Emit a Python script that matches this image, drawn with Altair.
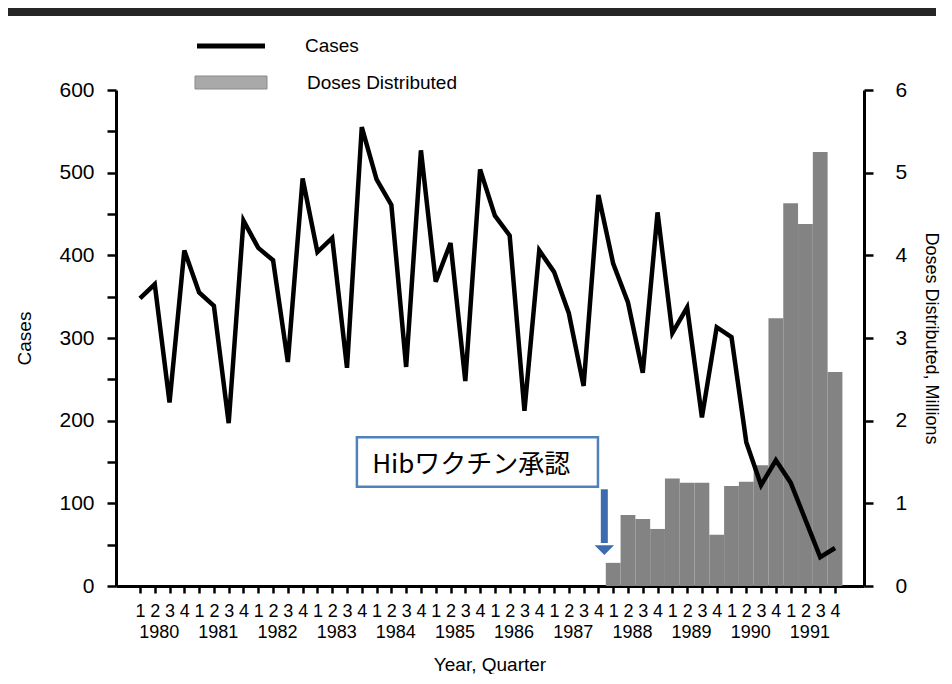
import altair as alt
import pandas as pd

# ---- data ----
quarter_index = list(range(48))          # 1980Q1 .. 1991Q4
cases = [348, 365, 222, 406, 355, 339, 197, 442, 409, 394, 271, 493,
         404, 421, 264, 555, 492, 461, 265, 527, 368, 415, 248, 504,
         448, 424, 212, 406, 380, 330, 242, 473, 390, 343, 258, 452,
         306, 337, 204, 313, 301, 174, 122, 152, 125, 80, 35, 46]
dose_index = list(range(32, 48))         # 1988Q1 .. 1991Q4
doses = [0.28, 0.86, 0.81, 0.69, 1.30, 1.25, 1.25, 0.62,
         1.21, 1.26, 1.46, 3.24, 4.63, 4.38, 5.25, 2.59]
years = [str(y) for y in range(1980, 1992)]
case_ticks = list(range(0, 601, 50))
dose_ticks = [v / 2 for v in range(0, 13)]
annotation_text = "Hibワクチン承認"

FONT = "Liberation Sans"
JP = "Noto Sans CJK JP"

df_cases = pd.DataFrame({"i": quarter_index, "cases": cases})
df_doses = pd.DataFrame({"x0": [i - 0.5 for i in dose_index],
                         "x1": [i + 0.5 for i in dose_index],
                         "d": doses})
df_years = pd.DataFrame({"i": [4 * k + 1.3 for k in range(len(years))], "year": years})
one = pd.DataFrame({"a": [0]})

xscale = alt.Scale(domain=[-1.62, 48.96], nice=False, zero=False)
cscale = alt.Scale(domain=[0, 600], nice=False)

X_AXIS = alt.Axis(values=quarter_index, labelExpr="(datum.value % 4) + 1",
                  labelOverlap=False, labelFlush=False, tickSize=7,
                  labelPadding=9, labelFontSize=18, title=None,
                  domainWidth=3, tickWidth=2.5)
Y_AXIS = alt.Axis(orient="left", values=case_ticks,
                  labelExpr="datum.value % 100 == 0 ? datum.label : ''",
                  labelOverlap=False,
                  title="Cases", tickSize=9, labelPadding=13, titlePadding=24,
                  domainWidth=3, tickWidth=2.5)

# bars (right axis)
bars = alt.Chart(df_doses).mark_rect(color="#838383").encode(
    x=alt.X("x0:Q", scale=xscale, axis=X_AXIS),
    x2="x1:Q",
    y=alt.Y("d:Q", scale=alt.Scale(domain=[0, 6], nice=False),
            axis=alt.Axis(orient="right", values=dose_ticks, format="d",
                          labelExpr="datum.value % 1 == 0 ? datum.label : ''",
                          labelOverlap=False,
                          title="Doses Distributed, Millions", titleFontSize=18,
                          tickSize=9, labelPadding=22, titlePadding=15,
                          domainWidth=3, tickWidth=2.5)),
    y2=alt.datum(0),
)

line = alt.Chart(df_cases).mark_line(color="black", strokeWidth=4.5, strokeJoin="miter").encode(
    x=alt.X("i:Q", scale=xscale, axis=X_AXIS),
    y=alt.Y("cases:Q", scale=cscale, axis=Y_AXIS),
)

ann = pd.DataFrame({"x1": [14.67], "x2": [30.97], "y1": [180], "y2": [120],
                    "tx": [15.7], "ty": [146], "t": [annotation_text],
                    "ax": [31.4], "ay1": [117], "ay2": [52], "hy": [43.5]})

box = alt.Chart(ann).mark_rect(fill="white", stroke="#4f81bd", strokeWidth=2.5).encode(
    x=alt.X("x1:Q", scale=xscale, axis=X_AXIS), x2="x2:Q",
    y=alt.Y("y1:Q", scale=cscale, axis=Y_AXIS), y2="y2:Q")
box_text = alt.Chart(ann).mark_text(align="left", baseline="middle", font=JP,
                                    fontSize=26, color="black").encode(
    x=alt.X("tx:Q", scale=xscale, axis=X_AXIS),
    y=alt.Y("ty:Q", scale=cscale, axis=Y_AXIS), text="t:N")
shaft = alt.Chart(ann).mark_rule(color="#3d6bb0", strokeWidth=7).encode(
    x=alt.X("ax:Q", scale=xscale, axis=X_AXIS),
    y=alt.Y("ay1:Q", scale=cscale, axis=Y_AXIS), y2="ay2:Q")
head = alt.Chart(ann).mark_point(shape="M-1,-0.5L1,-0.5L0,0.5Z", filled=True, size=380,
                                 color="#3d6bb0", opacity=1).encode(
    x=alt.X("ax:Q", scale=xscale, axis=X_AXIS),
    y=alt.Y("hy:Q", scale=cscale, axis=Y_AXIS))

year_text = alt.Chart(df_years).mark_text(font=FONT, fontSize=18, baseline="middle",
                                          color="black").encode(
    x=alt.X("i:Q", scale=xscale, axis=X_AXIS), y=alt.value(543), text="year:N")

xtitle = alt.Chart(one).mark_text(text="Year, Quarter", font=FONT, fontSize=19,
                                  color="black", baseline="middle").encode(
    x=alt.value(374), y=alt.value(575))

# legend drawn by hand
leg_line = alt.Chart(one).mark_rule(color="black", strokeWidth=5).encode(
    x=alt.value(81), x2=alt.value(149), y=alt.value(-44))
leg_rect = alt.Chart(one).mark_rect(fill="#a9a9a9", stroke="#8a8a8a", strokeWidth=1).encode(
    x=alt.value(79), x2=alt.value(151), y=alt.value(-14), y2=alt.value(-1))
leg_t1 = alt.Chart(one).mark_text(text="Cases", font=FONT, fontSize=19, align="left",
                                  baseline="middle", color="black").encode(
    x=alt.value(189), y=alt.value(-44))
leg_t2 = alt.Chart(one).mark_text(text="Doses Distributed", font=FONT, fontSize=19,
                                  align="left", baseline="middle", color="black").encode(
    x=alt.value(191), y=alt.value(-7))
band = alt.Chart(one).mark_rule(color="#262626", strokeWidth=8).encode(
    x=alt.value(-108), x2=alt.value(820), y=alt.value(-78))

front = alt.layer(line, box, box_text, shaft, head, year_text, xtitle,
                  leg_line, leg_rect, leg_t1, leg_t2, band)

chart = alt.layer(bars, front).resolve_scale(y="independent").properties(
    width=748, height=496,
    autosize=alt.AutoSizeParams(type="none"),
    padding={"left": 108, "top": 82, "right": 80, "bottom": 88},
).configure_view(stroke=None).configure_axis(
    labelFont=FONT, labelFontSize=21, labelColor="black",
    titleFont=FONT, titleFontSize=19, titleFontWeight="normal", titleColor="black",
    domainColor="black", tickColor="black", grid=False,
)

chart.save("out.html", embed_options={"renderer": "svg", "actions": False})
